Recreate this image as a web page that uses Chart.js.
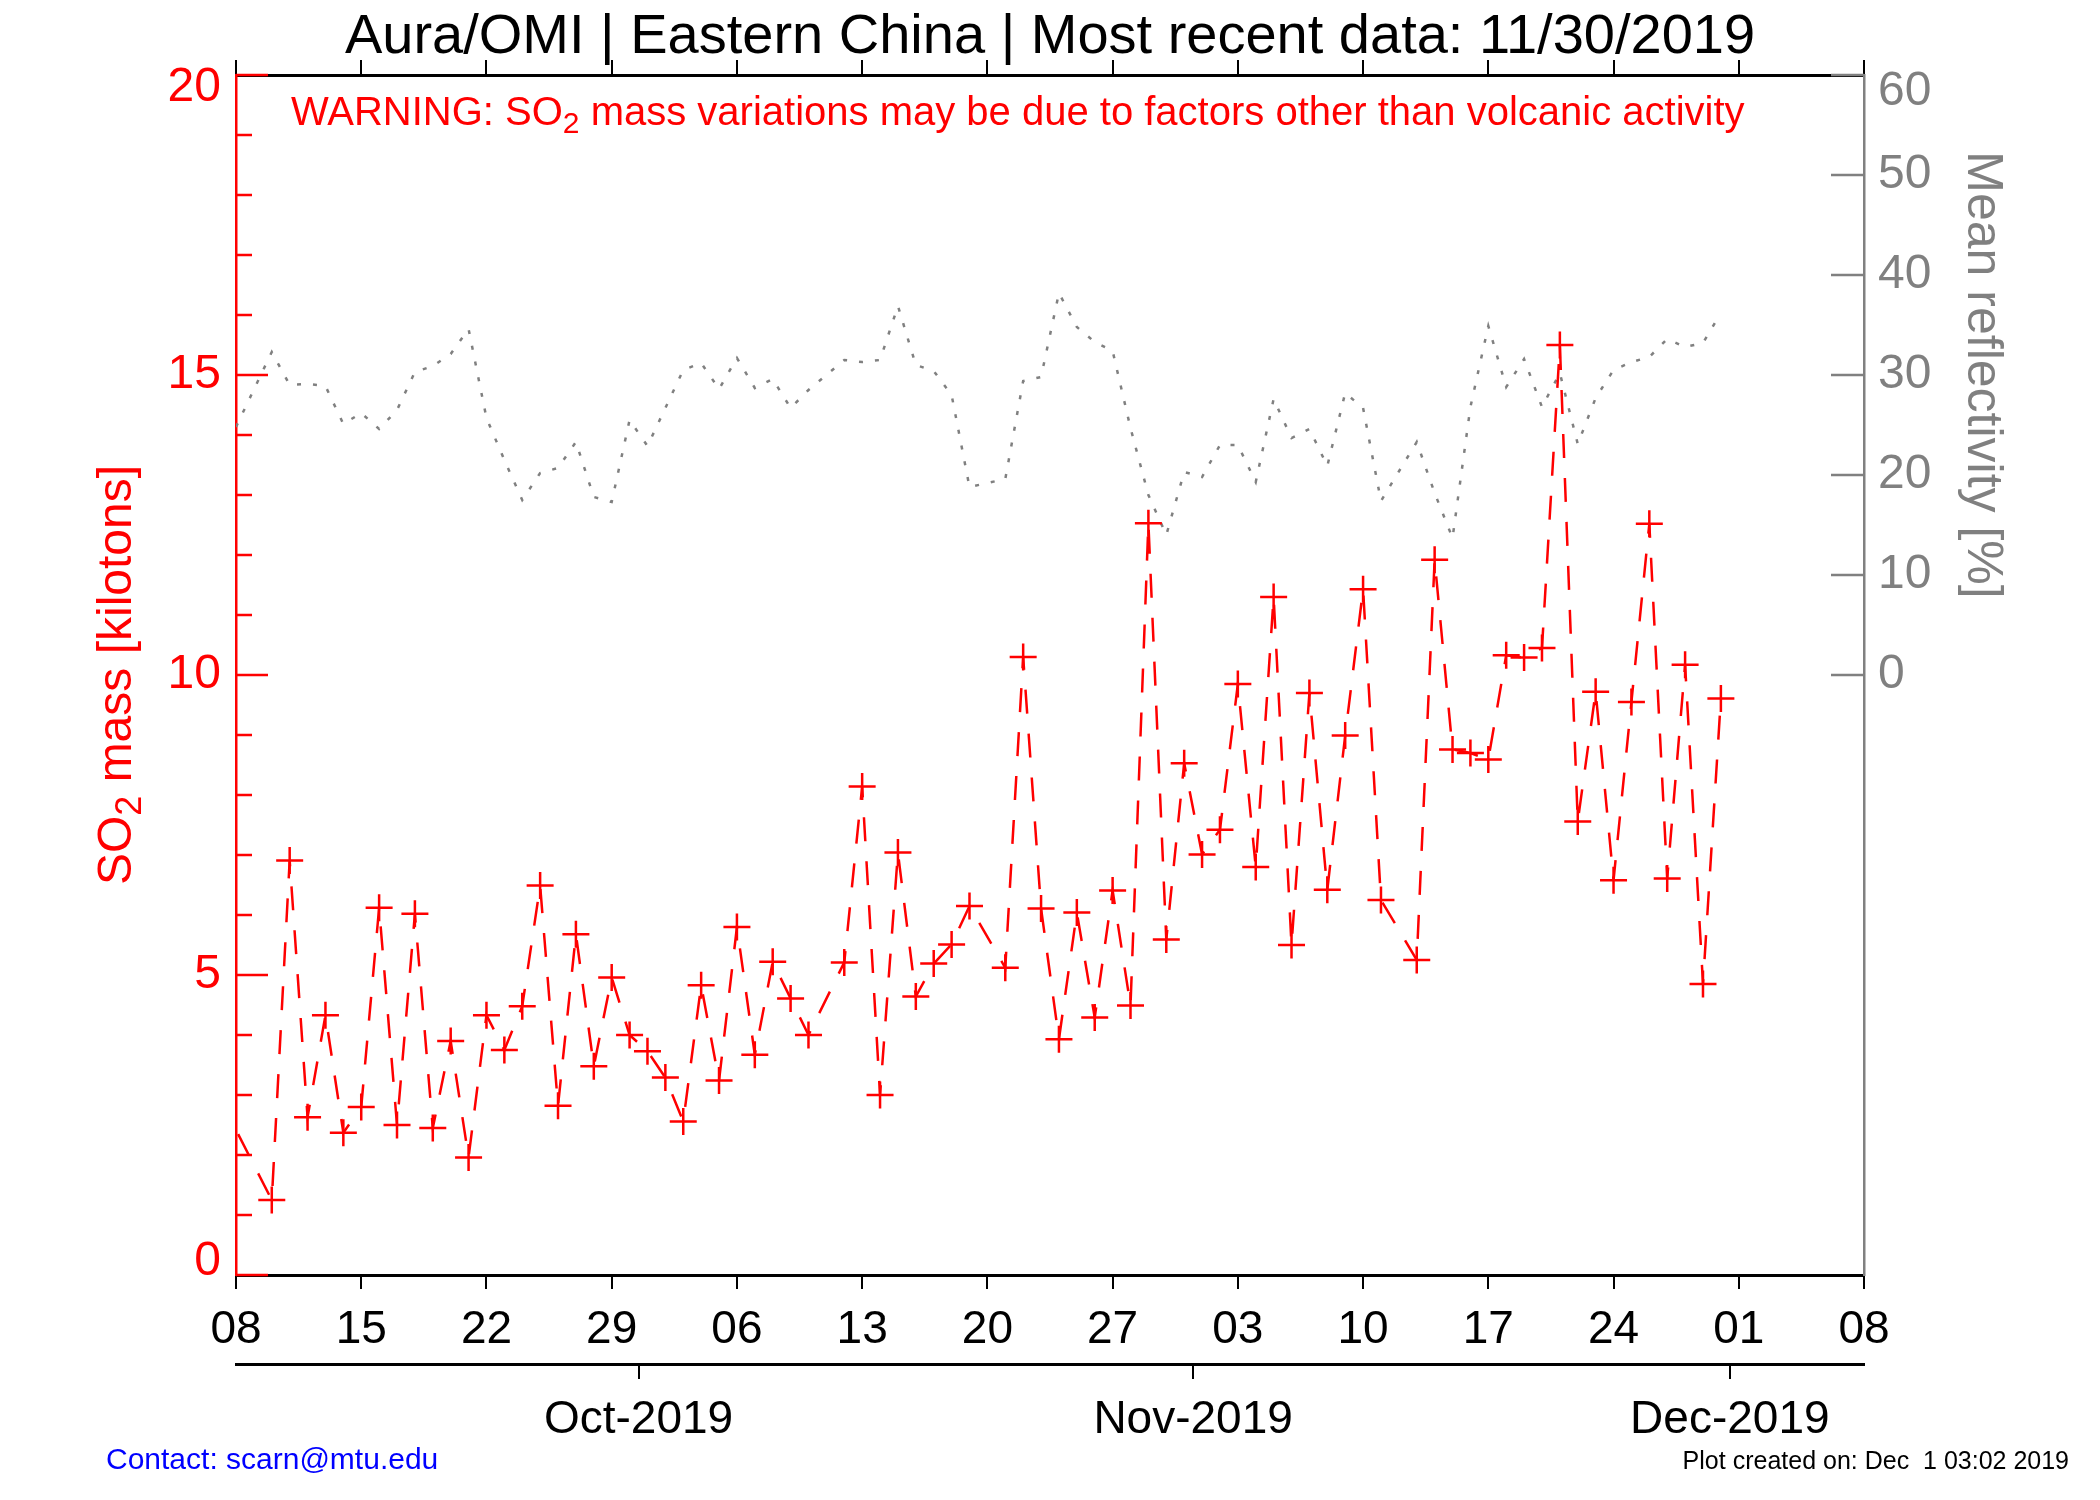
<!DOCTYPE html>
<html>
<head>
<meta charset="utf-8">
<title>Aura/OMI | Eastern China</title>
<script src="https://cdn.jsdelivr.net/npm/chart.js@4.4.1/dist/chart.umd.min.js"></script>
<style>
  html, body { margin: 0; padding: 0; background: #fff; }
  #wrap { width: 2100px; height: 1500px; }
</style>
</head>
<body>
<div id="wrap"><canvas id="so2-chart" width="2100" height="1500"></canvas></div>
<script>
// x values are days counted from 08 Sep 2019 (day 0)
const so2Days = [-1, 2, 3, 4, 5, 6, 7, 8, 9, 10, 11, 12, 13, 14, 15, 16, 17, 18, 19, 20,
  21, 22, 23, 24, 25, 26, 27, 28, 29, 30, 31, 32, 34, 35, 36, 37, 38, 39, 40, 41,
  43, 44, 45, 46, 47, 48, 49, 50, 51, 52, 53, 54, 55, 56, 57, 58, 59, 60, 61, 62,
  63, 64, 66, 67, 68, 69, 70, 71, 72, 73, 74, 75, 76, 77, 78, 79, 80, 81, 82, 83];
const so2Mass = [3.0, 1.25, 6.91, 2.63, 4.33, 2.37, 2.80, 6.12, 2.50, 6.02, 2.45, 3.90, 1.96, 4.33, 3.75, 4.48, 6.49, 2.82, 5.68, 3.48,
  4.96, 4.00, 3.73, 3.29, 2.56, 4.83, 3.24, 5.80, 3.67, 5.22, 4.61, 4.00, 5.21, 8.14, 3.00, 7.04, 4.64, 5.19, 5.51, 6.15,
  5.12, 10.30, 6.11, 3.93, 6.04, 4.29, 6.41, 4.49, 12.53, 5.59, 8.53, 7.01, 7.42, 9.85, 6.80, 11.30, 5.50, 9.70, 6.42, 8.99,
  11.43, 6.25, 5.25, 11.92, 8.76, 8.70, 8.59, 10.33, 10.29, 10.45, 15.50, 7.56, 9.72, 6.58, 9.55, 12.52, 6.61, 10.17, 4.85, 9.61];

const reflDays = [0, 2, 3, 4, 5, 6, 7, 8, 9, 10, 11, 12, 13, 14, 15, 16, 17, 18, 19, 20,
  21, 22, 23, 24, 25, 26, 27, 28, 29, 30, 31, 32, 34, 35, 36, 37, 38, 39, 40, 41,
  43, 44, 45, 46, 47, 48, 49, 50, 51, 52, 53, 54, 55, 56, 57, 58, 59, 60, 61, 62,
  63, 64, 66, 67, 68, 69, 70, 71, 72, 73, 74, 75, 76, 77, 78, 79, 80, 81, 82, 83];
const reflPct = [24.8, 32.3, 29.0, 29.1, 28.9, 25.1, 26.2, 24.6, 26.5, 30.3, 30.9, 32.1, 34.6, 25.7, 21.5, 17.5, 20.2, 20.7, 23.3, 17.8,
  17.3, 25.5, 22.9, 26.7, 30.5, 31.2, 28.6, 31.7, 28.7, 29.6, 26.7, 28.5, 31.5, 31.3, 31.5, 36.9, 31.0, 30.4, 28.0, 18.8,
  19.6, 29.4, 29.8, 38.2, 34.8, 33.3, 32.4, 24.7, 18.0, 14.0, 20.3, 19.8, 23.0, 23.0, 19.3, 27.6, 23.7, 24.6, 20.9, 28.2,
  26.7, 17.4, 23.3, 18.2, 13.7, 26.8, 34.9, 28.8, 31.6, 26.8, 30.2, 23.1, 27.7, 30.5, 31.3, 31.8, 33.6, 32.8, 33.2, 36.2];

const weekTickLabels = ['08', '15', '22', '29', '06', '13', '20', '27', '03', '10', '17', '24', '01', '08'];
const monthTickDays = [22.5, 53.5, 83.5];
const monthTickLabels = ['Oct-2019', 'Nov-2019', 'Dec-2019'];

const RED = '#ff0000';
const GRAY = '#808080';
const FAMILY = "'Liberation Sans', Arial, sans-serif";
Chart.defaults.font.family = FAMILY;

function font(size) {
  return size + 'px ' + FAMILY;
}

// draws text pieces left to right, pieces flagged true are subscripts
function drawRich(ctx, parts, x, y, size, align) {
  const subSize = size * 0.75;
  const widths = parts.map(([txt, sub]) => {
    ctx.font = font(sub ? subSize : size);
    return ctx.measureText(txt).width;
  });
  const total = widths.reduce((s, w) => s + w, 0);
  let cx = align === 'center' ? x - total / 2 : (align === 'right' ? x - total : x);
  ctx.textAlign = 'left';
  ctx.textBaseline = 'alphabetic';
  parts.forEach(([txt, sub], i) => {
    ctx.font = font(sub ? subSize : size);
    ctx.fillText(txt, cx, sub ? y + size * 0.2 : y);
    cx += widths[i];
  });
}

// end labels sit inside the axis range: pad them with an empty line
function edgeLabel(v, lo, hi) {
  if (v === hi) return ['', String(v)];
  if (v === lo) return [String(v), ''];
  return String(v);
}

const axisMarks = {
  id: 'axisMarks',
  afterDraw(chart) {
    const {ctx, chartArea: a, scales} = chart;
    ctx.save();

    // inward tick marks on both y axes
    ctx.lineWidth = 2.5;
    ctx.strokeStyle = RED;
    ctx.beginPath();
    scales.y.ticks.forEach(t => {
      const py = scales.y.getPixelForValue(t.value);
      const len = t.value % 5 === 0 ? 32 : 16;
      ctx.moveTo(a.left, py);
      ctx.lineTo(a.left + len, py);
    });
    ctx.stroke();

    ctx.strokeStyle = GRAY;
    ctx.beginPath();
    scales.y2.ticks.forEach(t => {
      if (t.value < 0) return;
      const py = scales.y2.getPixelForValue(t.value);
      ctx.moveTo(a.right - 33, py);
      ctx.lineTo(a.right, py);
    });
    ctx.stroke();

    // title and notes
    ctx.fillStyle = '#000';
    drawRich(ctx, [['Aura/OMI | Eastern China | Most recent data: 11/30/2019', false]], 1050, 53, 56, 'center');

    ctx.fillStyle = RED;
    drawRich(ctx, [['WARNING: SO', false], ['2', true],
      [' mass variations may be due to factors other than volcanic activity', false]], 291, 125, 40, 'left');

    ctx.save();
    ctx.translate(114, (a.top + a.bottom) / 2);
    ctx.rotate(-Math.PI / 2);
    drawRich(ctx, [['SO', false], ['2', true], [' mass [kilotons]', false]], 0, 17, 48, 'center');
    ctx.restore();

    ctx.save();
    ctx.fillStyle = GRAY;
    ctx.translate(1986, scales.y2.getPixelForValue(30));
    ctx.rotate(Math.PI / 2);
    drawRich(ctx, [['Mean reflectivity [%]', false]], 0, 18, 50, 'center');
    ctx.restore();

    ctx.fillStyle = '#0000ff';
    drawRich(ctx, [['Contact: scarn@mtu.edu', false]], 106, 1469, 30, 'left');
    ctx.fillStyle = '#000';
    drawRich(ctx, [['Plot created on: Dec  1 03:02 2019', false]], 2069, 1469, 25, 'right');

    ctx.restore();
  }
};

new Chart(document.getElementById('so2-chart'), {
  type: 'line',
  data: {
    datasets: [
      {
        label: 'SO2 mass',
        data: so2Days.map((d, i) => ({x: d, y: so2Mass[i]})),
        xAxisID: 'x',
        yAxisID: 'y',
        borderColor: RED,
        borderWidth: 2.5,
        borderDash: [24, 20],
        pointStyle: 'cross',
        pointRadius: 13.5,
        pointHoverRadius: 13.5,
        pointBorderColor: RED,
        pointBorderWidth: 2.5,
        tension: 0,
        fill: false
      },
      {
        label: 'Mean reflectivity',
        data: reflDays.map((d, i) => ({x: d, y: reflPct[i]})),
        xAxisID: 'x',
        yAxisID: 'y2',
        borderColor: GRAY,
        borderWidth: 2.5,
        borderDash: [4, 12],
        pointRadius: 0,
        tension: 0,
        fill: false
      }
    ]
  },
  options: {
    responsive: false,
    animation: false,
    devicePixelRatio: 1,
    events: [],
    layout: {padding: 0},
    plugins: {
      legend: {display: false},
      tooltip: {enabled: false}
    },
    scales: {
      x: {
        type: 'linear',
        position: 'bottom',
        weight: 0,
        min: 0,
        max: 91,
        ticks: {
          stepSize: 7,
          autoSkip: false,
          maxRotation: 0,
          minRotation: 0,
          padding: 14,
          color: '#000',
          font: {size: 46},
          callback: (v, i) => weekTickLabels[i]
        },
        grid: {drawOnChartArea: false, tickLength: 14, color: '#000', lineWidth: 2},
        border: {color: '#000', width: 3},
        afterFit: s => { s.height = 89; }
      },
      x2: {
        type: 'linear',
        position: 'bottom',
        weight: 1,
        min: 0,
        max: 91,
        afterBuildTicks: s => { s.ticks = monthTickDays.map(v => ({value: v})); },
        ticks: {
          autoSkip: false,
          maxRotation: 0,
          minRotation: 0,
          padding: 14,
          color: '#000',
          font: {size: 46},
          callback: (v, i) => monthTickLabels[i]
        },
        grid: {drawOnChartArea: false, tickLength: 15, color: '#000', lineWidth: 2},
        border: {color: '#000', width: 3},
        afterFit: s => { s.height = 136; }
      },
      xTop: {
        type: 'linear',
        position: 'top',
        min: 0,
        max: 91,
        ticks: {stepSize: 7, display: false},
        grid: {drawOnChartArea: false, tickLength: 15, color: '#000', lineWidth: 2},
        border: {color: '#000', width: 3},
        afterFit: s => { s.height = 75; }
      },
      y: {
        position: 'left',
        min: 0,
        max: 20,
        ticks: {
          stepSize: 1,
          autoSkip: false,
          padding: 15,
          color: RED,
          font: c => ({size: 48, lineHeight: c.tick && (c.tick.value === 0 || c.tick.value === 20) ? '26px' : 1.2}),
          callback: v => (v % 5 === 0 ? edgeLabel(v, 0, 20) : '')
        },
        grid: {drawOnChartArea: false, drawTicks: false},
        border: {color: RED, width: 2.5},
        afterFit: s => { s.width = 236; }
      },
      y2: {
        position: 'right',
        min: -60,
        max: 60,
        ticks: {
          stepSize: 10,
          autoSkip: false,
          padding: 14,
          color: GRAY,
          font: c => ({size: 48, lineHeight: c.tick && c.tick.value === 60 ? '34px' : 1.2}),
          callback: v => (v >= 0 ? edgeLabel(v, null, 60) : '')
        },
        grid: {drawOnChartArea: false, drawTicks: false},
        border: {color: GRAY, width: 2.5},
        afterFit: s => { s.width = 236; }
      }
    }
  },
  plugins: [axisMarks]
});
</script>
</body>
</html>
